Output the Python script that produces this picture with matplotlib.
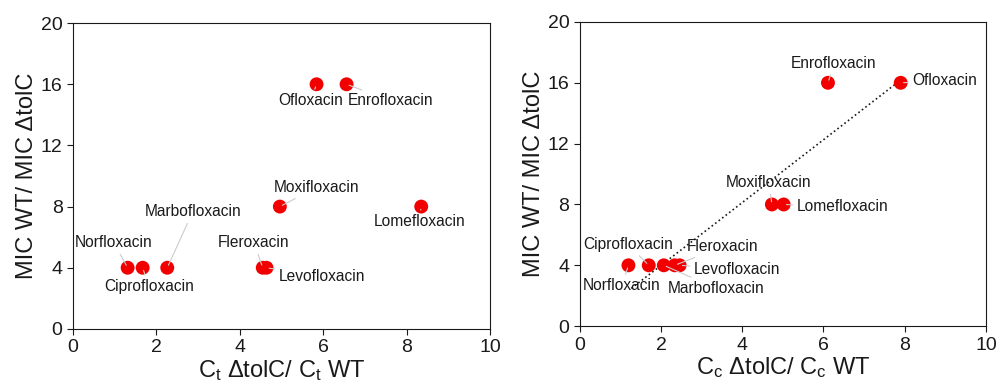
import numpy as np
import matplotlib
matplotlib.use('Agg')
import matplotlib.pyplot as plt

plt.rcParams['font.family'] = ['Liberation Sans', 'DejaVu Sans']
plt.rcParams['mathtext.fontset'] = 'custom'
plt.rcParams['mathtext.rm'] = 'Liberation Sans'
plt.rcParams['mathtext.it'] = 'Liberation Sans:italic'

drugs = ['Norfloxacin', 'Ciprofloxacin', 'Marbofloxacin', 'Fleroxacin', 'Levofloxacin',
         'Moxifloxacin', 'Ofloxacin', 'Enrofloxacin', 'Lomefloxacin']
mic_ratio = [4, 4, 4, 4, 4, 8, 16, 16, 8]
ct_ratio = [1.31, 1.67, 2.26, 4.55, 4.64, 4.96, 5.84, 6.56, 8.35]
cc_ratio = [1.2, 1.7, 2.07, 2.34, 2.46, 4.73, 7.9, 6.11, 5.02]

# label positions (data coords)
ct_text = [(0.98, 5.64), (1.82, 2.77), (2.87, 7.65), (4.34, 5.64), (5.98, 3.42),
           (5.83, 9.24), (5.70, 14.92), (7.62, 14.92), (8.30, 7.01)]
cc_text = [(1.04, 2.65), (1.19, 5.37), (3.35, 2.5), (3.51, 5.22), (3.88, 3.73),
           (4.66, 9.43), (8.99, 16.12), (6.26, 17.28), (6.47, 7.85)]

fig = plt.figure(figsize=(9.96, 3.92), dpi=100)
ax1 = fig.add_axes([0.0733, 0.161, 0.4187, 0.780])
ax2 = fig.add_axes([0.582, 0.168, 0.408, 0.776])


def panel(ax, xs, texts, xlabel):
    ax.scatter(xs, mic_ratio, s=100, color='#f20000', edgecolors='none', zorder=3)
    for name, x, y, t in zip(drugs, xs, mic_ratio, texts):
        ax.annotate(name, xy=(x, y), xytext=t, ha='center', va='center', fontsize=11.2,
                    color='#1a1a1a',
                    arrowprops=dict(arrowstyle='-', color='#cccccc', lw=0.8,
                                    shrinkA=1, shrinkB=2))
    ax.set_xlim(0, 10)
    ax.set_ylim(0, 20)
    ax.set_xticks([0, 2, 4, 6, 8, 10])
    ax.set_yticks([0, 4, 8, 12, 16, 20])
    ax.tick_params(direction='out', labelsize=14, length=4, colors='#1a1a1a')
    ax.set_xlabel(xlabel, fontsize=17, labelpad=1, color='#1a1a1a')
    ax.set_ylabel('MIC WT/ MIC \u0394tolC', fontsize=17, labelpad=2, color='#1a1a1a')
    for sp in ax.spines.values():
        sp.set_color('#1a1a1a')


panel(ax1, ct_ratio, ct_text, r'C$_\mathrm{t}$ $\mathrm{\Delta}$tolC/ C$_\mathrm{t}$ WT')
panel(ax2, cc_ratio, cc_text, r'C$_\mathrm{c}$ $\mathrm{\Delta}$tolC/ C$_\mathrm{c}$ WT')

# linear trend on right panel
coef = np.polyfit(cc_ratio, mic_ratio, 1)
xx = np.array([1.27, max(cc_ratio)])
ax2.plot(xx, np.polyval(coef, xx), linestyle=':', color='#1a1a1a', lw=1.2, zorder=2)

fig.savefig('out.png', dpi=100)
